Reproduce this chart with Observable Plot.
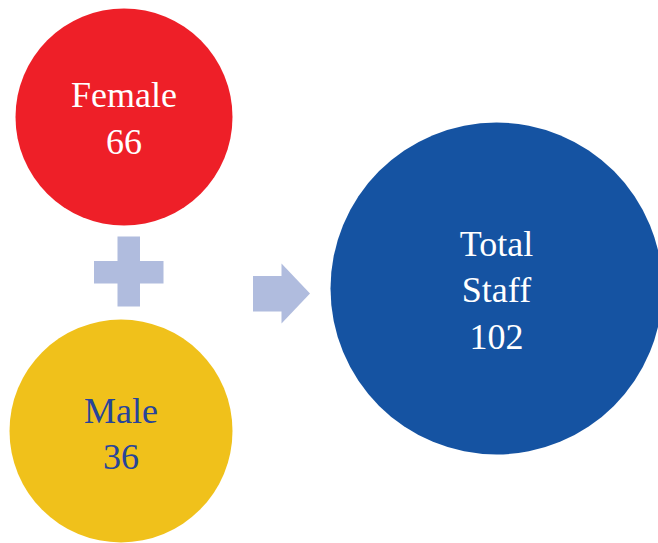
<!DOCTYPE html>
<html>
<head>
<meta charset="utf-8">
<script src="https://cdn.jsdelivr.net/npm/d3@7"></script>
<script src="https://cdn.jsdelivr.net/npm/@observablehq/plot@0.6"></script>
<style>
  html, body { margin: 0; padding: 0; background: #ffffff; }
  #chart svg { display: block; }
</style>
</head>
<body>
<div id="chart"></div>
<script>
// Data
const categories = ["Female", "Male", "Total Staff"];
const values = [66, 36, 102];

// Styles
const fillColors = ["#ee1f28", "#f0c11b", "#1553a2"];
const textColors = ["#ffffff", "#27449a", "#ffffff"];
const symbolColor = "#b0bcde";

// Layout (pixel coordinates within the 658x543 canvas)
const circleX = [123.5, 120.5, 496];
const circleY = [116.5, 430.5, 288];
const circleR = [108.5, 111.5, 166];
const labelY = [115, 430.5, 287];

const circles = categories.map((c, i) => ({
  category: c,
  value: values[i],
  x: circleX[i],
  y: circleY[i],
  r: circleR[i],
  ty: labelY[i],
  label: c.split(" ").join("\n") + "\n" + values[i],
  fill: fillColors[i],
  color: textColors[i]
}));

// Plus sign bars and arrow geometry
const plusBars = [
  {x1: 117.5, x2: 140, y1: 236.5, y2: 306.5},
  {x1: 94, x2: 163.5, y1: 261, y2: 283.5}
];
const arrowShaft = [{x1: 253, x2: 282, y1: 276, y2: 311.5}];
const arrowHead = [
  {x: 281.5, y1: 263.5, y2: 323.5},
  {x: 310, y1: 293.5, y2: 293.5}
];

const W = 658, H = 543;
const chart = Plot.plot({
  width: W,
  height: H,
  margin: 0,
  x: {domain: [0, W], range: [0, W], axis: null},
  y: {domain: [0, H], range: [0, H], axis: null},
  r: {type: "identity"},
  style: {background: "#ffffff"},
  marks: [
    Plot.dot(circles, {x: "x", y: "y", r: "r", fill: d => d.fill, stroke: null}),
    Plot.rect(plusBars, {x1: "x1", x2: "x2", y1: "y1", y2: "y2", fill: symbolColor}),
    Plot.rect(arrowShaft, {x1: "x1", x2: "x2", y1: "y1", y2: "y2", fill: symbolColor}),
    Plot.area(arrowHead, {x1: "x", y1: "y1", y2: "y2", fill: symbolColor}),
    Plot.text(circles, {
      x: "x",
      y: "ty",
      text: "label",
      fill: d => d.color,
      fontSize: 36,
      lineHeight: 1.3,
      lineAnchor: "middle",
      textAnchor: "middle",
      fontFamily: "'Liberation Serif', 'DejaVu Serif', serif"
    })
  ]
});
document.getElementById("chart").appendChild(chart);
</script>
</body>
</html>
